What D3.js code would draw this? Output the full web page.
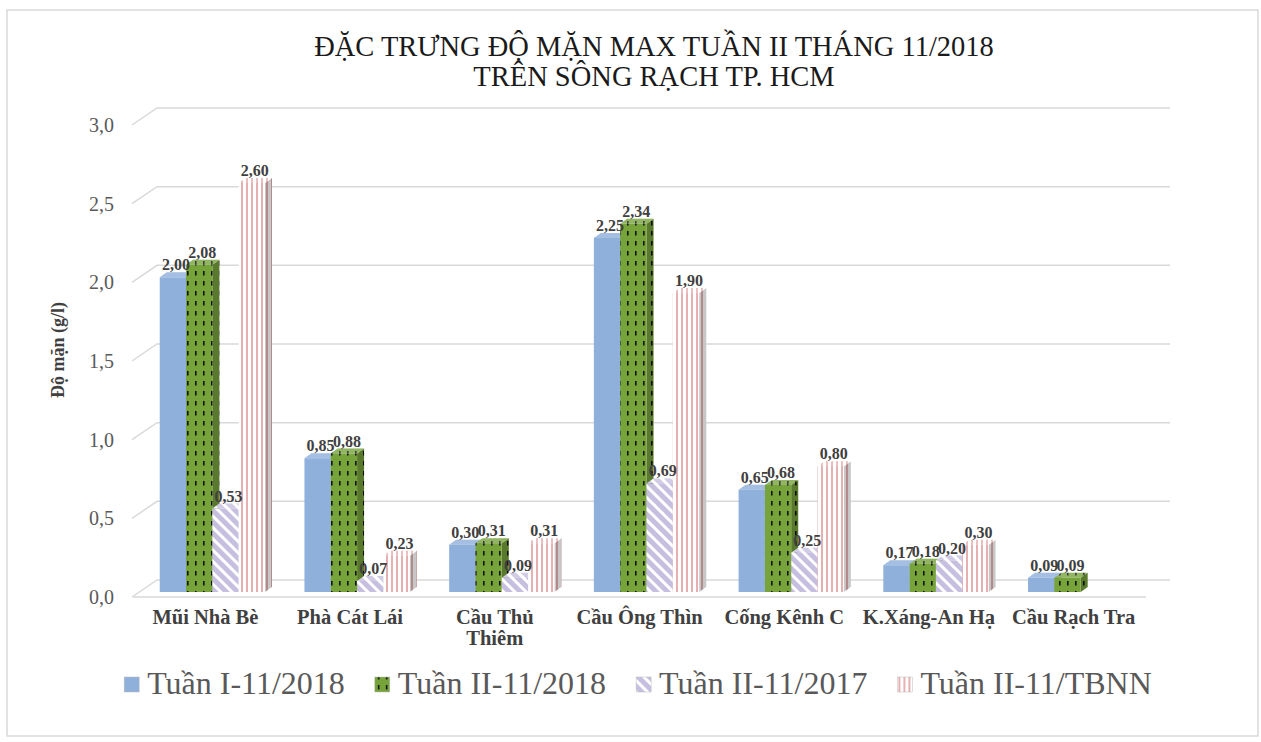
<!DOCTYPE html>
<html lang="vi">

<head>
    <meta charset="utf-8" />
    <title>Độ mặn max tuần II tháng 11/2018</title>
    <script src="https://cdn.jsdelivr.net/npm/d3@7"></script>
    <style>
        body { margin: 0; background: #fff; }
        text { font-family: 'Liberation Serif', 'Times New Roman', serif; }
    </style>
</head>

<body>
    <div id='chart'></div>
</body>
<script>

    let categories = [['Mũi Nhà Bè'], ['Phà Cát Lái'], ['Cầu Thủ', 'Thiêm'], ['Cầu Ông Thìn'],
        ['Cống Kênh C'], ['K.Xáng-An Hạ'], ['Cầu Rạch Tra']];
    let seriesNames = ['Tuần I-11/2018', 'Tuần II-11/2018', 'Tuần II-11/2017', 'Tuần II-11/TBNN'];
    let tuan1_2018 = [2.00, 0.85, 0.30, 2.25, 0.65, 0.17, 0.09];
    let tuan2_2018 = [2.08, 0.88, 0.31, 2.34, 0.68, 0.18, 0.09];
    let tuan2_2017 = [0.53, 0.07, 0.09, 0.69, 0.25, 0.20, null];
    let tuan2_tbnn = [2.60, 0.23, 0.31, 1.90, 0.80, 0.30, null];
    let yTicks = [0, 0.5, 1.0, 1.5, 2.0, 2.5, 3.0];

    let seriesValues = [tuan1_2018, tuan2_2018, tuan2_2017, tuan2_tbnn];

    let W = 1261, H = 742;
    // floor / wall depth and bar depth
    let wall = { dx: 24, dy: -17 };
    let barOff = { dx: 7, dy: -5 };
    let barDepth = { dx: 7, dy: -5 };

    let svg = d3.select('#chart')
        .append('svg')
        .attr('width', W)
        .attr('height', H);

    let defs = svg.append('defs');

    // patterns
    let pGreen = defs.append('pattern').attr('id', 'pGreen')
        .attr('patternUnits', 'userSpaceOnUse').attr('width', 8).attr('height', 10);
    pGreen.append('rect').attr('width', 8).attr('height', 10).attr('fill', '#77a33b');
    pGreen.append('rect').attr('x', 3).attr('y', 1).attr('width', 1.6).attr('height', 4.5).attr('fill', '#111');

    let pPurple = defs.append('pattern').attr('id', 'pPurple')
        .attr('patternUnits', 'userSpaceOnUse').attr('width', 8).attr('height', 8)
        .attr('patternTransform', 'rotate(-45)');
    pPurple.append('rect').attr('width', 8).attr('height', 8).attr('fill', '#c6bfe0');
    pPurple.append('rect').attr('x', 0).attr('width', 3).attr('height', 8).attr('fill', '#ffffff');

    let pPink = defs.append('pattern').attr('id', 'pPink')
        .attr('patternUnits', 'userSpaceOnUse').attr('width', 5).attr('height', 10);
    pPink.append('rect').attr('width', 5).attr('height', 10).attr('fill', '#ffffff');
    pPink.append('rect').attr('x', 1).attr('width', 2).attr('height', 10).attr('fill', '#e6b0b0');

    let fills = ['#8eb0da', 'url(#pGreen)', 'url(#pPurple)', 'url(#pPink)'];
    let sideShade = [0.22, 0.25, 0.18, 0.22];

    // outer frame
    svg.append('rect')
        .attr('x', 7).attr('y', 10)
        .attr('width', 1251).attr('height', 726)
        .attr('fill', 'none')
        .attr('stroke', '#d9d9d9')
        .attr('stroke-width', 1.5);

    let x = d3.scaleBand()
        .domain(d3.range(categories.length))
        .range([133, 1146]);

    let xs = d3.scaleBand()
        .domain(d3.range(seriesNames.length))
        .range([0, x.bandwidth()])
        .paddingOuter(0.75);

    let y = d3.scaleLinear()
        .domain([0, 3])
        .range([597, 125]);

    // gridlines (front diagonal + back wall line)
    svg.append('g')
        .selectAll('path')
        .data(yTicks)
        .join('path')
        .attr('d', t => 'M' + (x.range()[0] - 1) + ',' + y(t)
            + 'L' + (x.range()[0] + wall.dx) + ',' + (y(t) + wall.dy)
            + 'L' + (x.range()[1] + wall.dx) + ',' + (y(t) + wall.dy))
        .attr('fill', 'none')
        .attr('stroke', '#d9d9d9')
        .attr('stroke-width', 1.5);

    // floor front edge
    svg.append('line')
        .attr('x1', x.range()[0]).attr('x2', x.range()[1])
        .attr('y1', y(0)).attr('y2', y(0))
        .attr('stroke', '#d9d9d9')
        .attr('stroke-width', 1.5);

    // y tick labels
    svg.append('g')
        .selectAll('text')
        .data(yTicks)
        .join('text')
        .attr('x', 114)
        .attr('y', t => y(t) + 7)
        .attr('text-anchor', 'end')
        .style('font-size', '20px')
        .style('fill', '#595959')
        .text(t => d3.format('.1f')(t).replace('.', ','));

    // y title
    svg.append('text')
        .attr('transform', 'translate(64,350) rotate(-90)')
        .attr('text-anchor', 'middle')
        .style('font-size', '18px')
        .style('font-weight', 'bold')
        .style('fill', '#404040')
        .text('Độ mặn (g/l)');

    // bars
    let bars = [];
    categories.forEach((c, i) => {
        seriesValues.forEach((vals, k) => {
            if (vals[i] != null) bars.push({ cat: i, s: k, v: vals[i] });
        });
    });

    let gBars = svg.append('g');
    bars.forEach(d => {
        let x0 = x(d.cat) + xs(d.s) + barOff.dx,
            x1 = x0 + xs.bandwidth(),
            yb = y(0) + barOff.dy,
            yt = y(d.v) + barOff.dy,
            dx = barDepth.dx, dy = barDepth.dy;
        let g = gBars.append('g');
        let side = 'M' + x1 + ',' + yb + 'L' + (x1 + dx) + ',' + (yb + dy) + 'L' + (x1 + dx) + ',' + (yt + dy) + 'L' + x1 + ',' + yt + 'Z';
        let top = 'M' + x0 + ',' + yt + 'L' + (x0 + dx) + ',' + (yt + dy) + 'L' + (x1 + dx) + ',' + (yt + dy) + 'L' + x1 + ',' + yt + 'Z';
        g.append('path').attr('d', side).attr('fill', fills[d.s]);
        g.append('path').attr('d', side).attr('fill', '#000').attr('fill-opacity', sideShade[d.s]);
        g.append('path').attr('d', top).attr('fill', fills[d.s]);
        g.append('path').attr('d', top).attr('fill', '#fff').attr('fill-opacity', 0.2);
        g.append('rect')
            .attr('x', x0).attr('y', yt)
            .attr('width', xs.bandwidth()).attr('height', yb - yt)
            .attr('fill', fills[d.s]);
    });

    // data labels
    svg.append('g')
        .selectAll('text')
        .data(bars)
        .join('text')
        .attr('x', d => x(d.cat) + xs(d.s) + barOff.dx + xs.bandwidth() / 2 + 3)
        .attr('y', d => y(d.v) + barOff.dy - 7)
        .attr('text-anchor', 'middle')
        .style('font-size', '16px')
        .style('font-weight', 'bold')
        .style('fill', '#404040')
        .text(d => d3.format('.2f')(d.v).replace('.', ','));

    // category labels
    let gCat = svg.append('g')
        .selectAll('text')
        .data(categories)
        .join('text')
        .attr('x', (d, i) => x(i) + x.bandwidth() / 2)
        .attr('y', 624)
        .attr('text-anchor', 'middle')
        .style('font-size', '20.5px')
        .style('font-weight', 'bold')
        .style('fill', '#404040');
    gCat.selectAll('tspan')
        .data(d => d)
        .join('tspan')
        .attr('x', function () { return this.parentNode.getAttribute('x'); })
        .attr('dy', (d, j) => j ? 21 : 0)
        .text(d => d);

    // title
    svg.append('text')
        .attr('x', 654).attr('y', 56)
        .attr('text-anchor', 'middle')
        .style('font-size', '28.5px')
        .style('fill', '#1a1a1a')
        .text('ĐẶC TRƯNG ĐỘ MẶN MAX TUẦN II THÁNG 11/2018');
    svg.append('text')
        .attr('x', 654).attr('y', 86)
        .attr('text-anchor', 'middle')
        .style('font-size', '28.5px')
        .style('fill', '#1a1a1a')
        .text('TRÊN SÔNG RẠCH TP. HCM');

    // legend
    let legend = svg.append('g');
    let lx = 0;
    seriesNames.forEach((name, k) => {
        let item = legend.append('g').attr('transform', 'translate(' + lx + ',0)');
        item.append('rect')
            .attr('x', 0).attr('y', -17)
            .attr('width', 15).attr('height', 15)
            .attr('fill', fills[k])
            .attr('stroke', '#bbb')
            .attr('stroke-width', 0.5);
        let t = item.append('text')
            .attr('x', 23).attr('y', 0)
            .style('font-size', '32px')
            .style('fill', '#595959')
            .text(name);
        lx += 23 + t.node().getComputedTextLength() + 30;
    });
    lx -= 30;
    legend.attr('transform', 'translate(' + (638 - lx / 2) + ',694)');

</script>

</html>
